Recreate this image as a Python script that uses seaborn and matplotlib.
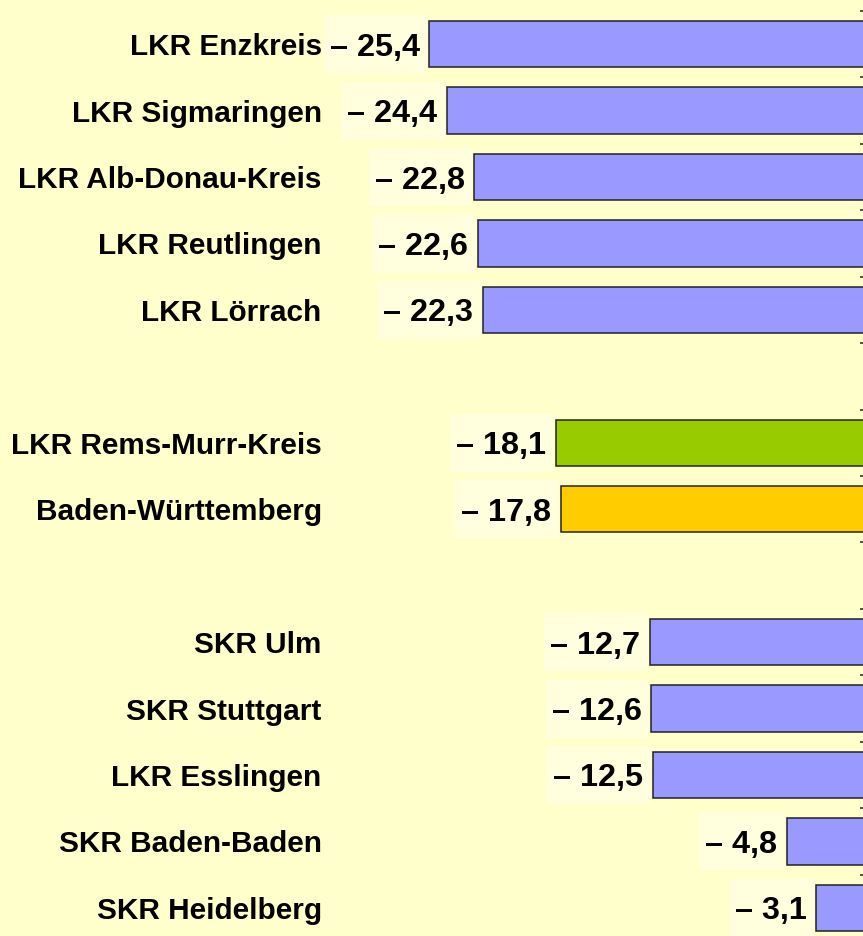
import matplotlib
matplotlib.use("Agg")
import matplotlib.pyplot as plt
import seaborn as sns
import pandas as pd
from matplotlib.ticker import FixedLocator
from matplotlib.patches import Rectangle
from matplotlib.transforms import IdentityTransform

categories = ["LKR Enzkreis", "LKR Sigmaringen", "LKR Alb-Donau-Kreis", "LKR Reutlingen",
              "LKR Lörrach", "LKR Rems-Murr-Kreis", "Baden-Württemberg", "SKR Ulm",
              "SKR Stuttgart", "LKR Esslingen", "SKR Baden-Baden", "SKR Heidelberg"]
values = [-25.4, -24.4, -22.8, -22.6, -22.3, -18.1, -17.8, -12.7, -12.6, -12.5, -4.8, -3.1]
row_order = ["LKR Enzkreis", "LKR Sigmaringen", "LKR Alb-Donau-Kreis", "LKR Reutlingen",
             "LKR Lörrach", " ", "LKR Rems-Murr-Kreis", "Baden-Württemberg", "  ",
             "SKR Ulm", "SKR Stuttgart", "LKR Esslingen", "SKR Baden-Baden", "SKR Heidelberg"]
colors = {c: "#9999FF" for c in categories}
colors["LKR Rems-Murr-Kreis"] = "#99CC00"
colors["Baden-Württemberg"] = "#FFCC00"

df = pd.DataFrame({"region": categories, "value": values})

sns.set_style("white")
plt.rcParams["font.family"] = ["Liberation Sans", "DejaVu Sans"]

BG = "#FFFFCC"
W, H = 863, 936
fig = plt.figure(figsize=(W / 100, H / 100), dpi=100, facecolor=BG)
ax_left, ax_right, ax_top, ax_bottom = 330, 870, 11, 941
ax = fig.add_axes([ax_left / W, (H - ax_bottom) / H, (ax_right - ax_left) / W, (ax_bottom - ax_top) / H])
ax.set_facecolor(BG)

sns.barplot(data=df, x="value", y="region", hue="region", order=row_order,
            palette=colors, legend=False, errorbar=None, width=0.7, orient="h",
            edgecolor="#222222", linewidth=1.1, ax=ax, saturation=1)

scale = 17.35
ax.set_xlim(-(ax_right - ax_left) / scale, 0)
ax.set_ylim(len(row_order) - 0.5, -0.5)

for sp in ax.spines.values():
    sp.set_visible(False)
ax.set_xticks([])
ax.set_xlabel("")
ax.set_ylabel("")

ax.tick_params(axis="y", which="major", length=0, pad=6, labelsize=21.4, labelcolor="black")
for t in ax.get_yticklabels():
    t.set_fontweight("bold")
    t.set_color("black")
ax.yaxis.set_minor_locator(FixedLocator([i - 0.5 for i in range(len(row_order) + 1)]))
ax.tick_params(axis="y", which="minor", left=False, right=True, direction="in",
               length=7, width=1.2, color="#333333")

texts = []
for p in list(ax.patches):
    w = p.get_width()
    if w == 0:
        continue
    left = min(p.get_x(), p.get_x() + w)
    yc = p.get_y() + p.get_height() / 2
    label = "– " + f"{abs(w):.1f}".replace(".", ",")
    t = ax.annotate(label, xy=(left, yc), xytext=(-7.0, -8.3), textcoords="offset points",
                    ha="right", va="baseline", fontsize=23.3, fontweight="bold", color="black",
                    annotation_clip=False, zorder=5)
    texts.append((t, left, yc))

fig.canvas.draw()
renderer = fig.canvas.get_renderer()
for t, left, yc in texts:
    bb = t.get_window_extent(renderer)
    cx, cy = ax.transData.transform((left, yc))
    box_h = 58
    rect = Rectangle((bb.x0 - 6, cy - box_h / 2), (cx - 2) - (bb.x0 - 6), box_h,
                     transform=IdentityTransform(), facecolor="#FFFFDE", edgecolor="none",
                     zorder=3, clip_on=False)
    ax.add_artist(rect)

fig.savefig("out.png", dpi=100, facecolor=BG)
